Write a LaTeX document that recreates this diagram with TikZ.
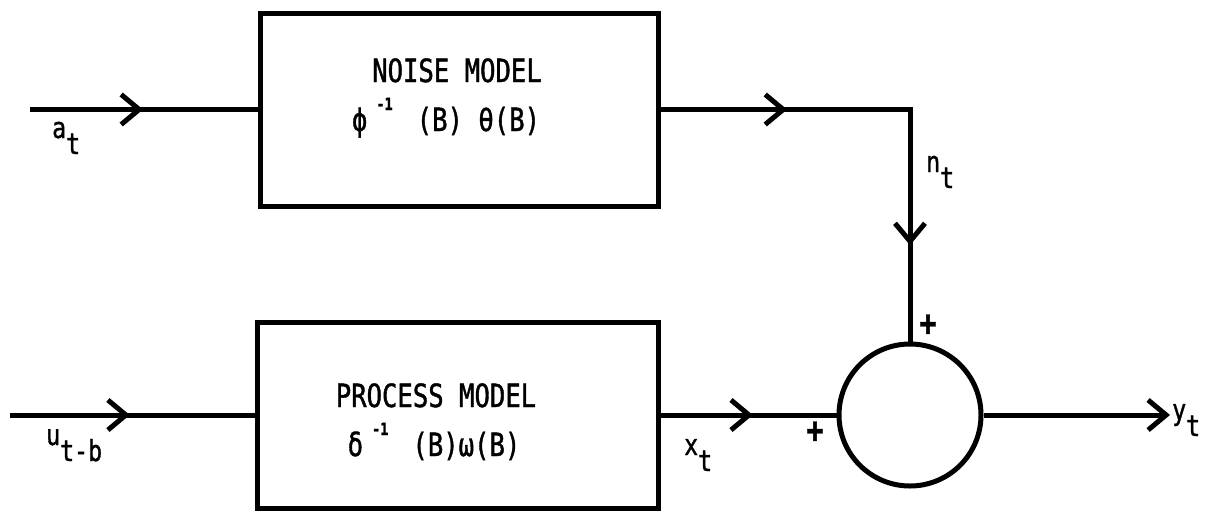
\documentclass[tikz,border=0pt]{standalone}
\usepackage{fontspec}
\usetikzlibrary{arrows.meta,decorations.markings}
\newfontfamily\tw[FakeStretch=0.8,FakeBold=1.2]{DejaVu Sans Mono}
\newcommand{\lo}[1]{\raisebox{-16pt}{#1}}
\newcommand{\supm}[1]{\raisebox{21pt}{\fontsize{17}{17}\selectfont\bfseries #1}}
\begin{document}
\begin{tikzpicture}[x=1pt,y=-1pt,
  every node/.style={font=\tw},
  blk/.style={draw,line width=5pt,rectangle,inner sep=0pt},
  sum/.style={draw,line width=5pt,circle,inner sep=0pt,minimum size=142pt},
  wire/.style={line width=5pt},
  big/.style={font=\tw\fontsize{32}{38}\selectfont,inner sep=0pt},
  lab/.style={font=\tw\fontsize{29}{32}\selectfont,inner sep=0pt},
  pls/.style={font=\tw\fontsize{36}{36}\selectfont\bfseries,inner sep=0pt},
  marr/.style={postaction={decorate,decoration={markings,mark=at position #1 with {\arrow[line width=5pt]{Straight Barb[length=18pt,width=30pt]}}}}}
]
\useasboundingbox (0,0) rectangle (1213,512);
\node[blk,minimum width=398pt,minimum height=193pt] (noise) at (459,109.5) {};
\node[blk,minimum width=401pt,minimum height=186pt] (proc) at (457.5,415) {};
\node[sum] (sum) at (910,415) {};
\coordinate (ain) at (30,109.5);
\coordinate (uin) at (10,415);
\coordinate (yout) at (1170,415);
\draw[wire,marr=0.497] (ain) -- (noise.west);
\draw[wire,marr=0.49] (uin) -- (proc.west);
\draw[wire,marr=0.263,marr=0.80] (noise.east) -| (sum.north);
\draw[wire,marr=0.525] (proc.east) -- (sum.west);
\draw[wire,-{Straight Barb[length=18pt,width=30pt]}] (sum.east) -- (yout);
\node[big,anchor=base] (nt1) at (457,82) {NOISE MODEL};
\node[big,anchor=base] (nt2) at (446,131) {ϕ\hspace{9pt}\supm{-1}\hspace{24pt}(B)\ θ(B)};
\node[big,anchor=base] (pt1) at (436,407) {PROCESS MODEL};
\node[big,anchor=base] (pt2) at (434,456) {δ\hspace{9pt}\supm{-1}\hspace{24pt}(B)ω(B)};
\node[lab,anchor=base west] (la) at (52,138) {a\lo{t}};
\node[lab,anchor=base west] (lu) at (46,445) {u\lo{t-b}};
\node[lab,anchor=base west] (ln) at (926,172) {n\lo{t}};
\node[lab,anchor=base west] (lx) at (684,455) {x\lo{t}};
\node[lab,anchor=base west] (ly) at (1172,420) {y\lo{t}};
\node[pls] (p1) at (815,432) {+};
\node[pls] (p2) at (928,325) {+};
\end{tikzpicture}
\end{document}
